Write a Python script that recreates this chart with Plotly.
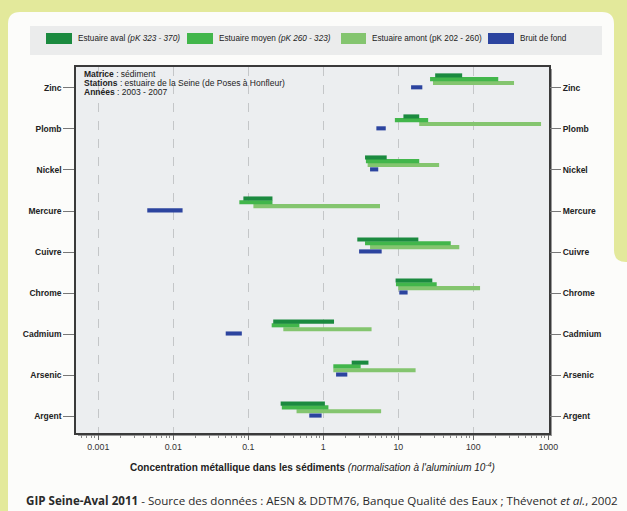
import plotly.graph_objects as go

# ---- data : concentrations normalised to aluminium (10^-4), min / max per zone ----
elements = ["Zinc", "Plomb", "Nickel", "Mercure", "Cuivre", "Chrome", "Cadmium", "Arsenic", "Argent"]

aval_lo = [31, 11.7, 3.6, 0.086, 2.84, 9.2, 0.215, 2.39, 0.27]
aval_hi = [71, 19, 7.0, 0.21, 18.5, 28.4, 1.39, 4.0, 1.05]

moyen_lo = [26.5, 9.0, 3.7, 0.076, 3.6, 9.3, 0.205, 1.36, 0.28]
moyen_hi = [215, 25, 19, 0.21, 50, 32.5, 0.48, 3.15, 1.17]

amont_lo = [29, 19, 3.9, 0.117, 4.2, 10, 0.293, 1.36, 0.44]
amont_hi = [349, 800, 35, 5.7, 65, 123, 4.4, 17, 5.9]

fond_lo = [14.8, 5.1, 4.2, 0.0045, 3.0, 10.3, 0.050, 1.48, 0.65]
fond_hi = [20.9, 6.8, 5.4, 0.0133, 6.0, 13.3, 0.082, 2.09, 0.95]

series_names = [
    "Estuaire aval <i>(pK 323 - 370)</i>",
    "Estuaire moyen <i>(pK 260 - 323)</i>",
    "Estuaire amont (pK 202 - 260)",
    "Bruit de fond",
]
x_ticks = [0.001, 0.01, 0.1, 1, 10, 100, 1000]
x_ticklabels = ["0.001", "0.01", "0.1", "1", "10", "100", "1000"]

# ---- styling ----
C_AVAL, C_MOYEN, C_AMONT, C_FOND = "#1b8a3f", "#42b64b", "#84c56f", "#2c449f"
PAGE_BG = "#e3e99b"
W, H = 627, 511
ML, MR, MT, MB = 76, 78, 67, 78
PW, PH = W - ML - MR, H - MT - MB
FONT = "Liberation Sans, Arial, sans-serif"


def px(x):
    return (x - ML) / PW


def py(y):
    return (H - MB - y) / PH


def path(points):
    # one command per entry so every segment is parsed on its own
    s = ""
    for cmd, pts in points:
        s += cmd + " " + " ".join(f"{px(a):.5f},{py(b):.5f}" for a, b in pts) + " "
    return s + "Z"


fig = go.Figure()

ypos = list(range(len(elements)))
BAR_W = 0.1


def add_range(lo, hi, offset, color, name, axis="y"):
    fig.add_trace(go.Bar(
        orientation="h",
        y=[i + offset for i in ypos],
        base=lo,
        x=[h - l for l, h in zip(lo, hi)],
        width=BAR_W,
        marker=dict(color=color, line=dict(width=0)),
        name=name,
        showlegend=False,
        yaxis=axis,
        hovertemplate="%{base} - %{customdata}<extra></extra>",
        customdata=hi,
    ))


add_range(amont_lo, amont_hi, -0.12, C_AMONT, series_names[2])
add_range(moyen_lo, moyen_hi, -0.215, C_MOYEN, series_names[1])
add_range(aval_lo, aval_hi, -0.305, C_AVAL, series_names[0])
add_range(fond_lo, fond_hi, -0.015, C_FOND, series_names[3], axis="y2")

# ---- background shapes (card, side panel, legend box, plot frame) ----
shapes = []
card = [("M", [(8, 511)]), ("L", [(8, 24)]), ("Q", [(8, 12), (20, 12)]),
        ("L", [(602, 12)]), ("Q", [(614, 12), (614, 24)]), ("L", [(614, 250)]),
        ("Q", [(614, 262), (626, 262)]), ("L", [(627, 262)]), ("L", [(627, 511)])]
shapes.append(dict(type="path", xref="paper", yref="paper", path=path(card),
                   fillcolor="#fcfcfa", line=dict(width=0), layer="below"))
# legend strip
shapes.append(dict(type="rect", xref="paper", yref="paper",
                   x0=px(30), x1=px(602), y0=py(26), y1=py(55),
                   fillcolor="#ebecec", line=dict(width=0), layer="below"))
# frame shadow and plot area
shapes.append(dict(type="rect", xref="paper", yref="paper",
                   x0=px(78), x1=px(552), y0=py(436), y1=py(69),
                   fillcolor="#9a9a9a", line=dict(width=0), layer="below"))
shapes.append(dict(type="rect", xref="paper", yref="paper",
                   x0=0, x1=1, y0=0, y1=1,
                   fillcolor="#eceef0", line=dict(width=0), layer="below"))

# legend swatches
swatches = [(46, 72, C_AVAL), (187, 213, C_MOYEN), (341, 366, C_AMONT), (488, 514, C_FOND)]
for x0, x1, c in swatches:
    shapes.append(dict(type="rect", xref="paper", yref="paper",
                       x0=px(x0), x1=px(x1), y0=py(44), y1=py(33),
                       fillcolor=c, line=dict(width=0)))

annotations = []
for (x0, x1, c), label in zip(swatches, series_names):
    annotations.append(dict(xref="paper", yref="paper", x=px(x1 + 4), y=py(38.5),
                            text=label, showarrow=False, xanchor="left", yanchor="middle",
                            font=dict(family=FONT, size=8.2, color="#222")))

info_lines = [
    "<b>Matrice</b> : sédiment",
    "<b>Stations</b> : estuaire de la Seine (de Poses à Honfleur)",
    "<b>Années</b> : 2003 - 2007",
]
for k, line in enumerate(info_lines):
    annotations.append(dict(xref="paper", yref="paper", x=px(82), y=py(74 + 9 * k),
                            text=line, showarrow=False, xanchor="left", yanchor="middle",
                            font=dict(family=FONT, size=8.5, color="#222")))

annotations.append(dict(
    xref="paper", yref="paper", x=px(312), y=py(467),
    text="<b>Concentration métallique dans les sédiments</b> "
         "<i>(normalisation à l'aluminium 10<sup>-4</sup>)</i>",
    showarrow=False, xanchor="center", yanchor="middle",
    font=dict(family=FONT, size=10, color="#222")))

annotations.append(dict(
    xref="paper", yref="paper", x=px(322), y=py(500),
    text="<b>GIP Seine-Aval 2011</b> - Source des données : AESN & DDTM76, "
         "Banque Qualité des Eaux ; Thévenot <i>et al.</i>, 2002",
    showarrow=False, xanchor="center", yanchor="middle",
    font=dict(family="Open Sans, sans-serif", size=11.6, color="#2a2a2a")))

minor_vals = [m * 10 ** e for e in range(-4, 3) for m in range(2, 10)]
minor_vals = [v for v in minor_vals if 0.0005 < v < 1000]

yrange = [8.41, -0.51]
ytick = dict(tickvals=ypos, ticktext=elements, ticks="outside", ticklen=11,
             tickcolor="#777", tickwidth=1,
             tickfont=dict(family=FONT, size=8.5, color="#222", weight="bold"),
             showgrid=False, zeroline=False, range=yrange, autorange=False)

fig.update_layout(
    width=W, height=H,
    margin=dict(l=ML, r=MR, t=MT, b=MB),
    paper_bgcolor=PAGE_BG,
    plot_bgcolor="rgba(0,0,0,0)",
    barmode="overlay",
    showlegend=False,
    shapes=shapes,
    annotations=annotations,
    xaxis=dict(
        type="log", range=[-3.297, 3.009], autorange=False,
        tickvals=x_ticks, ticktext=x_ticklabels,
        ticks="outside", ticklen=5, tickcolor="#666",
        tickfont=dict(family=FONT, size=8.8, color="#333"),
        showgrid=True, gridcolor="#c4c6c8", griddash="dash", gridwidth=1,
        zeroline=False, showline=True, mirror=True, linecolor="#3a3a3a", linewidth=1.5,
        minor=dict(tickvals=minor_vals, ticks="outside", ticklen=3,
                   tickcolor="#888", showgrid=False),
    ),
    yaxis=dict(**ytick, showline=True, mirror=True, linecolor="#3a3a3a", linewidth=1.5),
    yaxis2=dict(**ytick, overlaying="y", side="right", showline=False),
)

fig.write_html("out.html")
